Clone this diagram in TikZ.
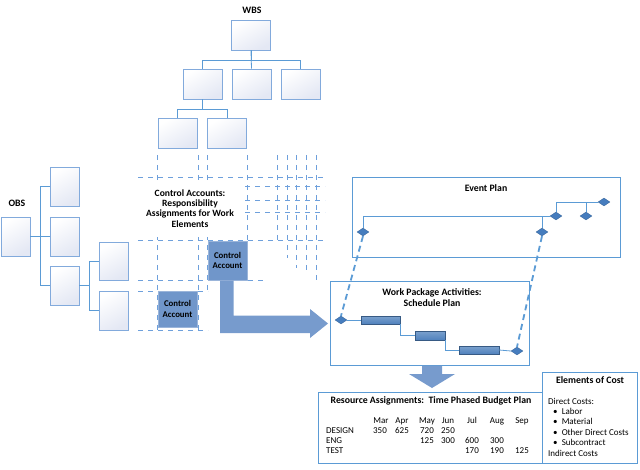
\documentclass[tikz,border=0pt]{standalone}
\usepackage{fontspec}
\setmainfont{Carlito}
\usetikzlibrary{shapes.geometric}
\definecolor{lineblue}{RGB}{91,155,213}
\definecolor{boxline}{RGB}{130,170,220}
\definecolor{gridblue}{RGB}{110,160,220}
\definecolor{cafill}{RGB}{112,150,202}
\definecolor{diafill}{RGB}{70,125,190}
\definecolor{barfill}{RGB}{79,129,189}
\definecolor{boxshade}{RGB}{228,232,244}
\tikzset{
  tbox/.style={draw=boxline, line width=0.8pt, top color=white, bottom color=boxshade, shading angle=30, inner sep=0pt},
  conn/.style={draw=lineblue, line width=0.8pt},
  gridl/.style={draw=gridblue, line width=0.9pt, dash pattern=on 5pt off 5pt},
  frame/.style={draw=lineblue, line width=0.9pt, fill=white, inner sep=0pt},
  cabox/.style={fill=cafill, draw=cafill!70!white, line width=0.6pt, inner sep=0pt, font=\fontsize{8.8}{10.5}\selectfont\bfseries, align=center},
  dia/.style={diamond, fill=diafill, draw=diafill!80!black, line width=0.3pt, minimum width=12pt, minimum height=8pt, inner sep=0pt},
  bar/.style={draw=barfill!70!black, line width=0.4pt, top color=barfill!75, bottom color=barfill, inner sep=0pt},
  ttl/.style={font=\fontsize{9.8}{11.5}\selectfont\bfseries, align=center, inner sep=0pt},
  tbl/.style={font=\fontsize{9}{10}\selectfont, inner sep=0pt, anchor=base},
  tbll/.style={font=\fontsize{9}{10}\selectfont, inner sep=0pt, anchor=base west},
  thickdash/.style={draw=lineblue, line width=1.8pt, dash pattern=on 6pt off 4pt},
  bigarrow/.style={fill=cafill!95!white, draw=none}
}
\begin{document}
\begin{tikzpicture}[x=1pt,y=-1pt]
\useasboundingbox (0,0) rectangle (640,469);
% ---------- dashed grid ----------
\draw[gridl] (138,177) -- (325,177);
\draw[gridl] (245,186) -- (325,186);
\draw[gridl] (245,200) -- (325,200);
\draw[gridl] (245,212) -- (325,212);
\draw[gridl] (138,240) -- (325,240);
\draw[gridl] (138,280) -- (265,280);
\draw[gridl] (138,291) -- (208,291);
\draw[gridl] (138,330) -- (208,330);
\draw[gridl] (157,155) -- (157,334);
\draw[gridl] (198,155) -- (198,334);
\draw[gridl] (207,155) -- (207,292);
\draw[gridl] (247,155) -- (247,242);
\draw[gridl] (277,155) -- (277,242);
\draw[gridl] (287,155) -- (287,258);
\draw[gridl] (296,155) -- (296,268);
\draw[gridl] (306,155) -- (306,273);
\draw[gridl] (316,155) -- (316,283);
% ---------- WBS ----------
\node[ttl] (wbs) at (252,10) {WBS};
\node[tbox, minimum width=39pt, minimum height=30pt] (w0) at (251,35) {};
\node[tbox, minimum width=39pt, minimum height=30pt] (w1) at (202.5,84) {};
\node[tbox, minimum width=39pt, minimum height=30pt] (w2) at (251.5,84) {};
\node[tbox, minimum width=39pt, minimum height=30pt] (w3) at (300.5,84) {};
\node[tbox, minimum width=39pt, minimum height=30pt] (w4) at (177.5,133) {};
\node[tbox, minimum width=39pt, minimum height=30pt] (w5) at (227,133) {};
\draw[conn] (w0.south) -- ++(0,10) -| (w1.north);
\draw[conn] (w0.south) -- (w2.north);
\draw[conn] (w0.south) -- ++(0,10) -| (w3.north);
\draw[conn] (w1.south) -- ++(0,10) -| (w4.north);
\draw[conn] (w1.south) -- ++(0,10) -| (w5.north);
% ---------- OBS ----------
\node[ttl] (obs) at (17,203) {OBS};
\node[tbox, minimum width=29pt, minimum height=39pt] (o0) at (15.5,236.5) {};
\node[tbox, minimum width=29pt, minimum height=39pt] (o1) at (64.5,186.5) {};
\node[tbox, minimum width=29pt, minimum height=39pt] (o2) at (64.5,236.5) {};
\node[tbox, minimum width=29pt, minimum height=39pt] (o3) at (64.5,285.5) {};
\node[tbox, minimum width=29pt, minimum height=38pt] (o4) at (113.5,261) {};
\node[tbox, minimum width=29pt, minimum height=39pt] (o5) at (113.5,310.5) {};
\draw[conn] (o0.east) -- ++(10,0) |- (o1.west);
\draw[conn] (o0.east) -- (o2.west);
\draw[conn] (o0.east) -- ++(10,0) |- (o3.west);
\draw[conn] (o3.east) -- ++(10,0) |- (o4.west);
\draw[conn] (o3.east) -- ++(10,0) |- (o5.west);
% ---------- Control accounts ----------
\node[ttl, fill=white, minimum width=98pt, minimum height=56pt, font=\fontsize{9.6}{10.2}\selectfont\bfseries] (catxt) at (190,208.5) {Control Accounts:\\Responsibility\\Assignments for Work\\Elements};
\node[cabox, minimum width=39pt, minimum height=39pt] (ca1) at (227.5,260.5) {Control\\Account};
\node[cabox, minimum width=39pt, minimum height=36pt] (ca2) at (177.5,309) {Control\\Account};
% big arrow
\fill[bigarrow] (220,280.5) -- (220,333) -- (310,333) -- (310,338) -- (328,323.5) -- (310,309) -- (310,315.5) -- (233.5,315.5) -- (233.5,280.5) -- cycle;
% ---------- Event plan ----------
\node[frame, minimum width=268pt, minimum height=80pt] (ev) at (486,217) {};
\node[ttl] (evt) at (486,188) {Event Plan};
\node[dia] (e1) at (363,232) {};
\node[dia] (e2) at (542,232) {};
\node[dia] (e3) at (556,216) {};
\node[dia] (e4) at (586,216) {};
\node[dia] (e5) at (604,202) {};
\draw[conn] (e1.north) |- (e3.west);
\draw[conn] (e2.north) -- (e2.north |- e3.west);
\draw[conn] (e3.north) |- (e5.west);
\draw[conn] (e4.north) -- (e4.north |- e5.west);
% ---------- Work package ----------
\node[frame, minimum width=199pt, minimum height=84pt] (wp) at (429.5,323) {};
\node[ttl] (wpt) at (432,297.5) {Work Package Activities:\\Schedule Plan};
\node[dia] (s1) at (341,320) {};
\node[bar, minimum width=39pt, minimum height=8pt] (b1) at (380.5,320) {};
\node[bar, minimum width=30pt, minimum height=9pt] (b2) at (430,335.5) {};
\node[bar, minimum width=40pt, minimum height=8pt] (b3) at (479,350) {};
\node[dia] (s2) at (517,351) {};
\draw[conn] (s1.east) -- (b1.west);
\draw[conn] (b1.south east) |- (b2.west);
\draw[conn] (b2.south east) |- (b3.west);
\draw[conn] (b3.east) -- (s2.west);
\draw[thickdash] (e1.south) -- (s1.north);
\draw[thickdash] (e2.south) -- (s2.north);
% down arrow
\fill[bigarrow] (422,365.5) -- (442,365.5) -- (442,374) -- (455,374) -- (432,388) -- (409,374) -- (422,374) -- cycle;
% ---------- Resource assignments ----------
\node[frame, minimum width=224pt, minimum height=71pt] (rb) at (430,427.5) {};
\node[ttl] (rbt) at (431,401) {Resource Assignments:\ \ Time Phased Budget Plan};
\node[tbl] at (381,423) {Mar};
\node[tbl] at (402,423) {Apr};
\node[tbl] at (427,423) {May};
\node[tbl] at (448,423) {Jun};
\node[tbl] at (472,423) {Jul};
\node[tbl] at (497,423) {Aug};
\node[tbl] at (522,423) {Sep};
\node[tbll] at (326,433) {DESIGN};
\node[tbll] at (326,443) {ENG};
\node[tbll] at (326,453) {TEST};
\node[tbl] at (380,433) {350};
\node[tbl] at (402,433) {625};
\node[tbl] at (427,433) {720};
\node[tbl] at (448,433) {250};
\node[tbl] at (427,443) {125};
\node[tbl] at (448,443) {300};
\node[tbl] at (472,443) {600};
\node[tbl] at (497,443) {300};
\node[tbl] at (472,453) {170};
\node[tbl] at (497,453) {190};
\node[tbl] at (522,453) {125};
% ---------- Elements of cost ----------
\node[frame, minimum width=95pt, minimum height=91pt] (eb) at (589.5,417.5) {};
\node[ttl] (ebt) at (590,380) {Elements of Cost};
\node[tbll] at (548,404) {Direct Costs:};
\node[tbll] at (553,414) {\textbullet\ \ Labor};
\node[tbll] at (553,424.5) {\textbullet\ \ Material};
\node[tbll] at (553,435) {\textbullet\ \ Other Direct Costs};
\node[tbll] at (553,445.5) {\textbullet\ \ Subcontract};
\node[tbll] at (548,456) {Indirect Costs};
\end{tikzpicture}
\end{document}
